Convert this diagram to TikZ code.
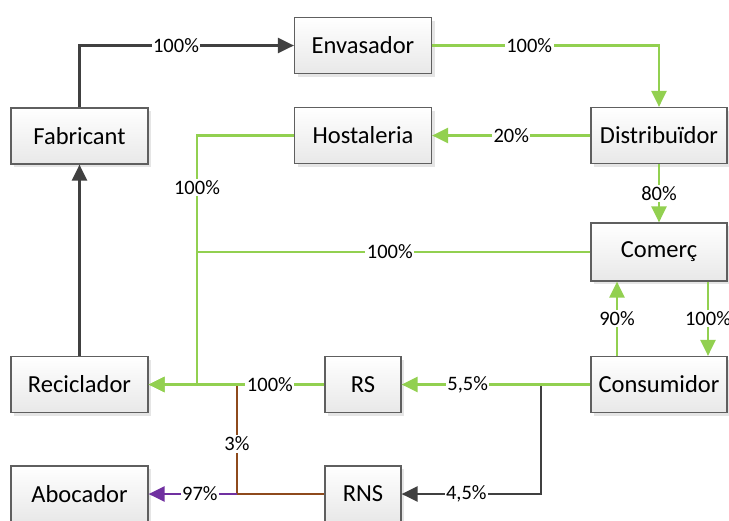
\documentclass[tikz,border=0pt]{standalone}
\usepackage{fontspec}
\setmainfont{Carlito}
\usetikzlibrary{arrows.meta,shadows}

\definecolor{flowgreen}{HTML}{92D050}
\definecolor{flowdark}{HTML}{404040}
\definecolor{flowbrown}{HTML}{8E4A1C}
\definecolor{flowpurple}{HTML}{7030A0}
\definecolor{boxedge}{HTML}{5F5F5F}

\tikzset{
  box/.style={draw=boxedge, line width=1.2pt, shading=axis,
    top color=white, bottom color=black!9,
    minimum width=137pt, minimum height=56pt, inner sep=0pt,
    font=\fontsize{24.5}{28}\selectfont,
    drop shadow={shadow xshift=3pt, shadow yshift=-3pt, fill=black!10, opacity=1}},
  smallbox/.style={box, minimum width=76pt},
  lbl/.style={fill=white, inner sep=1.5pt, text=black,
    font=\fontsize{20.5}{24}\selectfont},
  flow/.style={line width=2.5pt, -{Triangle[length=16pt,width=15pt]}},
  link/.style={line width=2.5pt},
}

\begin{document}
\begin{tikzpicture}[x=1pt, y=-1pt]
\useasboundingbox (0,0) rectangle (729,520);
\begin{scope}
\clip (0,0) rectangle (729,520);

% boxes
\node[box] (Fabricant)   at (79.5,136)   {Fabricant};
\node[box] (Envasador)   at (363,45.5)   {Envasador};
\node[box] (Hostaleria)  at (363,135.5)  {Hostaleria};
\node[box, minimum width=136pt] (Distribuidor) at (659,135.5) {Distribuïdor};
\node[box, minimum width=136pt, minimum height=58pt] (Comerc) at (659,252) {Comerç};
\node[box] (Reciclador)  at (79.5,384.5) {Reciclador};
\node[smallbox] (RS)     at (363,384.5)  {RS};
\node[box, minimum width=136pt] (Consumidor) at (659,384.5) {Consumidor};
\node[box] (Abocador)    at (79.5,494)   {Abocador};
\node[smallbox] (RNS)    at (363,494)    {RNS};

% junction points
\coordinate (hx) at (197,135.5);
\coordinate (hy) at (197,384.5);
\coordinate (cj) at (197,252);
\coordinate (dj) at (541,384.5);
\coordinate (bj) at (237,494);
\coordinate (bt) at (237,384.5);

% production chain
\draw[flow, flowdark] (Fabricant.north) |- node[lbl, pos=0.725] {100\%} (Envasador.west);
\draw[flow, flowgreen] (Envasador.east) -| node[lbl, pos=0.214] {100\%} (Distribuidor.north);
\draw[flow, flowgreen] (Distribuidor.west) -- node[lbl, midway] {20\%} (Hostaleria.east);
\draw[flow, flowgreen] (Distribuidor.south) -- node[lbl, midway] {80\%} (Comerc.north);
\draw[flow, flowgreen] ([xshift=49pt]Comerc.south) -- node[lbl, midway] {100\%} ([xshift=49pt]Consumidor.north);
\draw[flow, flowgreen] ([xshift=-42pt]Consumidor.north) -- node[lbl, midway] {90\%} ([xshift=-42pt]Comerc.south);

% waste streams
\draw[flow, flowdark] (dj) |- node[lbl, pos=0.768] {4,5\%} (RNS.east);
\draw[link, flowbrown] (RNS.west) -- (bj);
\draw[link, flowbrown] (bj) -- node[lbl, pos=0.457] {3\%} (bt);
\draw[flow, flowpurple] (bj) -- node[lbl, pos=0.42] {97\%} (Abocador.east);

\draw[flow, flowgreen] (Consumidor.west) -- node[lbl, pos=0.65] {5,5\%} (RS.east);
\draw[flow, flowgreen] (RS.west) -- node[lbl, pos=0.31] {100\%} (Reciclador.east);
\draw[flow, flowgreen] (Hostaleria.west) -- (hx) -- node[lbl, pos=0.21] {100\%} (hy) -- (Reciclador.east);
\draw[link, flowgreen] (Comerc.west) -- node[lbl, pos=0.51] {100\%} (cj);

% recycling back to production
\draw[flow, flowdark] (Reciclador.north) -- (Fabricant.south);
\end{scope}
\end{tikzpicture}
\end{document}
